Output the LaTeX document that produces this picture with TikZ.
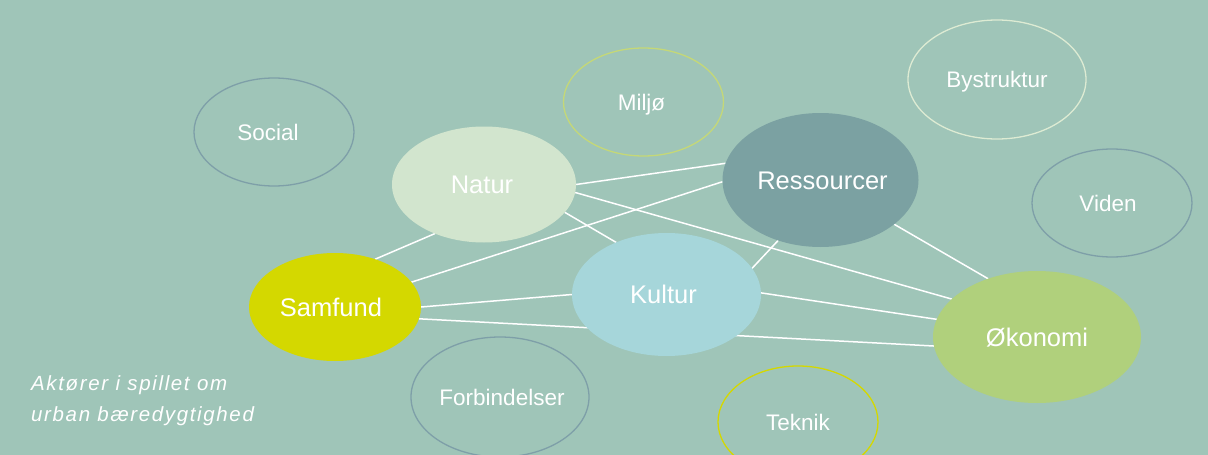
\documentclass[tikz,border=0pt]{standalone}
\usepackage{fontspec}
\setmainfont{Liberation Sans}
\newfontfamily\notefont[LetterSpace=8]{Liberation Sans}
\usetikzlibrary{shapes.geometric}
\definecolor{bgc}{HTML}{9FC5B8}
\definecolor{naturc}{HTML}{D2E5CE}
\definecolor{resc}{HTML}{7BA1A2}
\definecolor{samc}{HTML}{D4D800}
\definecolor{kulc}{HTML}{A6D6DA}
\definecolor{okoc}{HTML}{B0D07C}
\definecolor{blueline}{HTML}{7E9FA8}
\definecolor{greenline}{HTML}{C5D877}
\definecolor{paleline}{HTML}{DDEBD3}
\pgfdeclarelayer{back}
\pgfdeclarelayer{edges}
\pgfsetlayers{back,edges,main}
\tikzset{
  oval/.style={ellipse, inner sep=0pt, outer sep=0pt, text=white, text depth=0pt},
  bigoval/.style={oval, text height=18.4pt, font=\fontsize{25.5}{30}\selectfont},
  smalloval/.style={oval, text height=16.2pt, line width=1.3pt, font=\fontsize{22.5}{27}\selectfont},
  link/.style={draw=white, line width=1.5pt}
}
\begin{document}
\begin{tikzpicture}[x=1pt,y=-1pt]
\useasboundingbox (0,0) rectangle (1208,455);
\begin{pgfonlayer}{back}
\fill[bgc] (0,0) rectangle (1208,455);
\end{pgfonlayer}
% outlined ovals
\node[smalloval, draw=blueline, minimum width=160pt, minimum height=108pt] (social) at (274,132) {\makebox[0pt]{\hspace*{-12pt}Social}};
\node[smalloval, draw=greenline, minimum width=160pt, minimum height=108pt] (miljo) at (643.5,102) {\makebox[0pt]{\hspace*{-4pt}Miljø}};
\node[smalloval, draw=paleline, minimum width=178pt, minimum height=119pt] (bystruktur) at (997,79.5) {\makebox[0pt]{Bystruktur}};
\node[smalloval, draw=blueline, minimum width=160pt, minimum height=108pt] (viden) at (1112,203) {\makebox[0pt]{\hspace*{-8pt}Viden}};
\node[smalloval, draw=blueline, minimum width=178pt, minimum height=120pt] (forbindelser) at (500,397) {\makebox[0pt]{\hspace*{4pt}Forbindelser}};
\node[smalloval, draw=samc, minimum width=160pt, minimum height=112pt] (teknik) at (798,422) {\makebox[0pt]{Teknik}};
% filled ovals
\node[bigoval, fill=naturc, minimum width=184pt, minimum height=116pt] (natur) at (484,184.5) {\makebox[0pt]{\hspace*{-4pt}Natur}};
\node[bigoval, fill=resc, minimum width=196pt, minimum height=134pt] (ressourcer) at (820.5,180) {\makebox[0pt]{\hspace*{4pt}Ressourcer}};
\node[bigoval, fill=samc, minimum width=172pt, minimum height=108pt] (samfund) at (335,307) {\makebox[0pt]{\hspace*{-8pt}Samfund}};
\node[bigoval, fill=kulc, minimum width=189pt, minimum height=123pt] (kultur) at (666.5,294.5) {\makebox[0pt]{\hspace*{-6pt}Kultur}};
\node[bigoval, fill=okoc, minimum width=208pt, minimum height=132pt] (okonomi) at (1037,337) {\makebox[0pt]{Økonomi}};
% connectors
\begin{pgfonlayer}{edges}
\draw[link] (samfund.50.8) -- (natur.-135.9);
\draw[link] (samfund.18.4) -- (ressourcer.181);
\draw[link] (samfund.-0.7) -- (kultur.180);
\draw[link] (samfund.-8.5) -- (okonomi.-175.6);
\draw[link] (natur.0) -- (ressourcer.170.5);
\draw[link] (natur.-5.9) -- (okonomi.156);
\draw[link] (natur.-19.6) -- (kultur.134.2);
\draw[link] (kultur.17) -- (ressourcer.-125.9);
\draw[link] (kultur.1) -- (okonomi.170.5);
\draw[link] (ressourcer.-31.1) -- (okonomi.130.3);
\end{pgfonlayer}
% caption
\node[anchor=base west, inner sep=0pt, align=left, text=white,
  font=\notefont\itshape\fontsize{20.5}{31}\selectfont] (caption) at (31,421)
  {Aktører i spillet om\\urban bæredygtighed};
\end{tikzpicture}
\end{document}
